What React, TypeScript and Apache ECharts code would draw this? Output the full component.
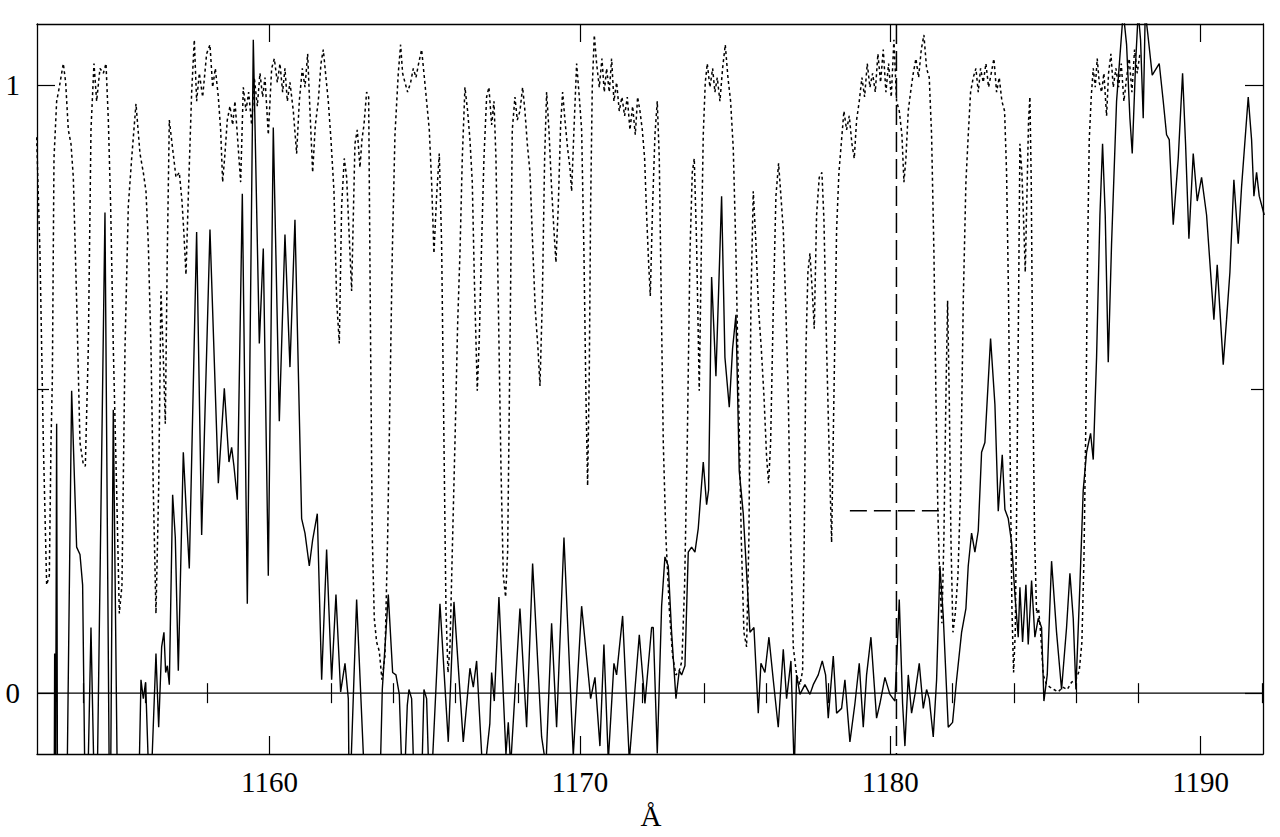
import React, { useEffect, useRef } from "react";
import * as echarts from "echarts";

// Axis ranges and ticks
const X_MIN = 1152.51;
const X_MAX = 1192.01;
const Y_MIN = -0.1;
const Y_MAX = 1.1;
const majorXTicks = [1160, 1170, 1180, 1190];
const minorXTicks = [1154, 1156, 1158, 1162, 1164, 1166, 1168, 1172, 1174, 1176, 1178, 1182, 1184, 1186, 1188, 1192];
const majorYTicks = [0, 1];
const minorYTicks = [0.5];
const xAxisTitle = "Å";

// Marker (line centre and width)
const markerLambda = 1180.2;
const markerFlux = 0.3;
const markerHalfWidth = 1.5;

// Observed spectrum (solid), [wavelength Å, normalised flux]
const observedA = [
  [1152.4, -0.3], [1152.93, -0.3], [1153.057, -0.3], [1153.079, 0.065], [1153.1, -0.3], [1153.143, 0.443], [1153.175, -0.3],
  [1153.444, -0.3], [1153.626, 0.497], [1153.787, 0.24], [1153.895, 0.228], [1153.98, 0.178], [1154.088, -0.3], [1154.249, 0.108],
  [1154.41, -0.3], [1154.7, 0.79], [1154.861, -0.3], [1154.968, 0.466], [1155.13, -0.3], [1155.774, -0.2], [1155.86, 0.022],
  [1155.935, -0.009], [1156.01, 0.018], [1156.15, -0.2], [1156.343, 0.065], [1156.43, -0.056], [1156.526, 0.076], [1156.6, 0.1],
  [1156.655, 0.034], [1156.71, 0.045], [1156.773, 0.014], [1156.88, 0.326], [1156.966, 0.256], [1157.063, 0.037], [1157.224, 0.396],
  [1157.331, 0.287], [1157.417, 0.205], [1157.653, 0.758], [1157.815, 0.26], [1158.083, 0.762], [1158.352, 0.345], [1158.545, 0.501],
  [1158.695, 0.38], [1158.781, 0.404], [1158.856, 0.373], [1158.964, 0.318], [1159.125, 0.821], [1159.286, 0.147], [1159.479, 1.074],
  [1159.673, 0.575], [1159.801, 0.731], [1159.962, 0.193], [1160.123, 0.93], [1160.317, 0.447], [1160.499, 0.754], [1160.66, 0.536],
  [1160.821, 0.778], [1161.036, 0.287], [1161.144, 0.263], [1161.283, 0.209], [1161.391, 0.252], [1161.541, 0.295], [1161.681, 0.022],
  [1161.841, 0.236], [1162.003, 0.022], [1162.142, 0.162], [1162.293, 0.002], [1162.433, 0.049], [1162.54, -0.009],
];
const observedB = [
  [1162.572, -0.2], [1162.808, 0.154], [1163.109, -0.2], [1163.56, -0.15], [1163.635, 0.006], [1163.828, 0.162], [1163.968, 0.034],
  [1164.075, 0.03], [1164.183, -0.002], [1164.311, -0.2], [1164.44, -0.02], [1164.494, 0.006], [1164.58, -0.009], [1164.687, -0.2],
  [1164.902, -0.15], [1164.977, 0.006], [1165.063, -0.009], [1165.17, -0.2], [1165.493, 0.147], [1165.761, -0.08], [1165.944, 0.15],
  [1166.244, -0.08], [1166.459, 0.041], [1166.567, 0.01], [1166.674, 0.053], [1166.889, -0.15], [1167.1, -0.05], [1167.157, 0.034],
  [1167.243, -0.013], [1167.393, 0.158], [1167.619, -0.1], [1167.694, -0.048], [1167.77, -0.12], [1168.07, 0.139], [1168.285, -0.056],
  [1168.478, 0.213], [1168.768, -0.072], [1168.908, -0.12], [1169.09, 0.115], [1169.251, -0.056], [1169.488, 0.256], [1169.788, -0.103],
  [1170.057, 0.143], [1170.347, -0.009], [1170.487, 0.026], [1170.647, -0.087], [1170.776, 0.08], [1170.916, -0.111], [1171.098, 0.049],
  [1171.184, 0.03], [1171.378, 0.127], [1171.593, -0.111], [1171.915, 0.096], [1172.097, -0.017], [1172.312, 0.108],
];
const observedC = [
  [1172.365, 0.108], [1172.494, -0.099], [1172.634, 0.143], [1172.741, 0.224], [1172.849, 0.209], [1172.956, 0.1], [1173.096, -0.009],
  [1173.203, 0.037], [1173.278, 0.03], [1173.386, 0.045], [1173.493, 0.232], [1173.6, 0.24], [1173.708, 0.232], [1173.815, 0.271],
  [1173.976, 0.38], [1174.084, 0.31], [1174.148, 0.334], [1174.245, 0.684], [1174.384, 0.521], [1174.567, 0.817], [1174.674, 0.552],
  [1174.814, 0.47], [1174.921, 0.567], [1175.029, 0.622], [1175.136, 0.365], [1175.265, 0.295], [1175.48, 0.1], [1175.609, 0.108],
  [1175.748, -0.033], [1175.834, 0.049], [1175.963, 0.034], [1176.092, 0.092], [1176.231, 0.022], [1176.392, -0.056], [1176.554, 0.072],
  [1176.661, -0.009], [1176.801, 0.053], [1176.908, -0.13], [1176.983, 0.03], [1177.091, -0.002], [1177.252, 0.014], [1177.413, -0.002],
  [1177.52, 0.014], [1177.681, 0.03], [1177.81, 0.053], [1177.917, 0.03], [1178.003, -0.041], [1178.165, 0.061], [1178.272, -0.033],
  [1178.433, -0.025], [1178.54, 0.022], [1178.701, -0.08], [1178.863, -0.017], [1179.002, 0.049], [1179.131, -0.056], [1179.238, 0.03],
  [1179.378, 0.092], [1179.56, -0.041], [1179.668, -0.017], [1179.829, 0.026], [1179.99, -0.002], [1180.151, -0.013], [1180.291, 0.154],
  [1180.398, -0.017], [1180.473, -0.087], [1180.581, 0.03], [1180.688, -0.033], [1180.796, -0.002], [1180.935, 0.049], [1181.064, -0.025],
  [1181.171, 0.006], [1181.257, -0.009], [1181.386, -0.072], [1181.494, 0.022], [1181.601, 0.209], [1181.708, 0.127], [1181.869, -0.056],
  [1182.009, -0.048], [1182.138, 0.022], [1182.299, 0.1], [1182.438, 0.139],
];
const observedD = [
  [1182.513, 0.209], [1182.621, 0.263], [1182.728, 0.232], [1182.836, 0.267], [1182.943, 0.396], [1183.05, 0.412], [1183.233, 0.583],
  [1183.373, 0.474], [1183.48, 0.299], [1183.609, 0.392], [1183.695, 0.302], [1183.802, 0.287], [1183.91, 0.248], [1184.017, 0.162],
  [1184.124, 0.092], [1184.178, 0.174], [1184.264, 0.084], [1184.371, 0.178], [1184.446, 0.08], [1184.554, 0.185], [1184.661, 0.092],
  [1184.769, 0.123], [1184.876, 0.108], [1184.951, -0.013], [1185.058, 0.03], [1185.198, 0.217], [1185.359, 0.1], [1185.52, 0.006],
  [1185.681, 0.108], [1185.789, 0.197], [1185.896, 0.123], [1185.982, 0.006], [1186.111, 0.178], [1186.218, 0.334], [1186.326, 0.396],
  [1186.455, 0.427], [1186.541, 0.384], [1186.648, 0.552], [1186.756, 0.786], [1186.841, 0.903], [1186.927, 0.786], [1187.024, 0.544],
  [1187.131, 0.739], [1187.292, 0.973], [1187.507, 1.12], [1187.615, 1.066], [1187.722, 0.945], [1187.797, 0.887], [1187.905, 1.035],
  [1187.99, 1.12], [1188.065, 1.074], [1188.151, 0.945], [1188.216, 1.12], [1188.302, 1.082], [1188.441, 1.016], [1188.667, 1.035],
  [1188.796, 0.973], [1188.903, 0.918], [1188.989, 0.91], [1189.118, 0.77], [1189.279, 0.879], [1189.419, 1.019], [1189.515, 0.903],
  [1189.623, 0.747], [1189.762, 0.887], [1189.891, 0.809], [1190.031, 0.848], [1190.192, 0.786], [1190.321, 0.692], [1190.428, 0.614],
  [1190.535, 0.704], [1190.621, 0.63], [1190.729, 0.54], [1190.836, 0.614], [1190.944, 0.692], [1191.072, 0.844], [1191.212, 0.739],
  [1191.319, 0.832], [1191.534, 0.98], [1191.642, 0.91], [1191.717, 0.817], [1191.803, 0.856], [1191.889, 0.817], [1192.05, 0.786],
];

// Model spectrum (dotted)
const modelA = [
  [1152.499, 0.914], [1152.606, 0.723], [1152.714, 0.412], [1152.821, 0.178], [1152.907, 0.193], [1152.961, 0.412], [1153.004, 0.513],
  [1153.057, 0.879], [1153.143, 0.973], [1153.229, 0.996], [1153.304, 1.019], [1153.358, 1.035], [1153.433, 1.004], [1153.519, 0.926],
  [1153.605, 0.903], [1153.68, 0.848], [1153.787, 0.645], [1153.895, 0.412], [1154.002, 0.376], [1154.067, 0.373], [1154.163, 0.567],
  [1154.249, 0.926], [1154.346, 1.035], [1154.432, 0.973], [1154.539, 1.027], [1154.647, 1.019], [1154.733, 1.035], [1154.808, 0.942],
  [1154.883, 0.801], [1154.969, 0.567], [1155.076, 0.334], [1155.162, 0.131], [1155.248, 0.178], [1155.345, 0.567], [1155.452, 0.801],
  [1155.56, 0.879], [1155.699, 0.969], [1155.828, 0.887], [1155.935, 0.856], [1156.021, 0.825], [1156.096, 0.739], [1156.182, 0.567],
  [1156.257, 0.334], [1156.343, 0.131], [1156.429, 0.334], [1156.504, 0.661], [1156.58, 0.552], [1156.644, 0.443], [1156.708, 0.723],
  [1156.773, 0.942], [1156.88, 0.895], [1156.988, 0.848], [1157.095, 0.856], [1157.181, 0.809], [1157.245, 0.754], [1157.31, 0.688],
  [1157.385, 0.817], [1157.493, 0.988], [1157.578, 1.074], [1157.653, 0.973], [1157.74, 1.019], [1157.847, 0.98], [1157.975, 1.051],
  [1158.083, 1.066], [1158.169, 0.996], [1158.255, 1.027], [1158.352, 0.98], [1158.427, 0.926], [1158.491, 0.84], [1158.566, 0.887],
  [1158.641, 0.942], [1158.727, 0.965], [1158.813, 0.934], [1158.888, 0.973], [1158.964, 0.918], [1159.071, 0.84], [1159.157, 0.996],
  [1159.243, 0.957], [1159.329, 0.988], [1159.426, 0.934], [1159.511, 1.012], [1159.608, 0.965], [1159.694, 1.019], [1159.78, 0.98],
  [1159.855, 1.012], [1159.962, 0.918], [1160.07, 1.027], [1160.156, 1.043], [1160.253, 1.004], [1160.338, 1.035], [1160.424, 0.988],
  [1160.499, 1.027], [1160.575, 0.973], [1160.66, 1.004], [1160.768, 0.957], [1160.875, 0.887], [1160.961, 0.973], [1161.058, 1.027],
  [1161.144, 0.996], [1161.23, 1.051], [1161.305, 0.957], [1161.391, 0.856], [1161.477, 0.934], [1161.573, 0.973], [1161.659, 1.035],
  [1161.734, 1.058], [1161.82, 1.012], [1161.895, 0.973], [1161.981, 0.91], [1162.078, 0.825], [1162.164, 0.645], [1162.25, 0.575],
  [1162.325, 0.801], [1162.41, 0.879], [1162.486, 0.848],
];
const modelB = [
  [1162.647, 0.661], [1162.754, 0.903], [1162.829, 0.926], [1162.915, 0.864], [1162.98, 0.91], [1163.044, 0.934], [1163.13, 0.988],
  [1163.195, 0.98], [1163.259, 0.567], [1163.313, 0.256], [1163.377, 0.123], [1163.452, 0.084], [1163.538, 0.069], [1163.624, 0.022],
  [1163.721, 0.061], [1163.807, 0.256], [1163.882, 0.489], [1163.957, 0.723], [1164.043, 0.918], [1164.15, 1.019], [1164.225, 1.066],
  [1164.29, 1.019], [1164.365, 1.004], [1164.451, 0.988], [1164.548, 1.004], [1164.634, 1.027], [1164.72, 1.012], [1164.805, 1.035],
  [1164.902, 1.058], [1164.977, 1.019], [1165.063, 0.973], [1165.149, 0.926], [1165.224, 0.84], [1165.299, 0.723], [1165.385, 0.817],
  [1165.471, 0.887], [1165.546, 0.739], [1165.622, 0.412], [1165.686, 0.139], [1165.751, 0.034], [1165.815, 0.076], [1165.901, 0.256],
  [1165.987, 0.435], [1166.062, 0.606], [1166.137, 0.723], [1166.212, 0.879], [1166.298, 0.996], [1166.384, 0.957], [1166.459, 0.91],
  [1166.534, 0.84], [1166.599, 0.684], [1166.695, 0.497], [1166.76, 0.583], [1166.835, 0.739], [1166.91, 0.879], [1166.996, 0.98],
  [1167.071, 0.996], [1167.157, 0.934], [1167.233, 0.973], [1167.297, 0.879], [1167.372, 0.645], [1167.458, 0.373], [1167.533, 0.193],
  [1167.608, 0.158], [1167.673, 0.232], [1167.748, 0.567], [1167.823, 0.926], [1167.909, 0.98], [1167.984, 0.942], [1168.07, 0.957],
  [1168.156, 0.996], [1168.231, 0.957], [1168.307, 0.903], [1168.393, 0.856], [1168.478, 0.739], [1168.564, 0.63], [1168.65, 0.567],
  [1168.715, 0.505], [1168.79, 0.645], [1168.865, 0.879], [1168.929, 0.988], [1169.004, 0.926], [1169.08, 0.84], [1169.155, 0.77],
  [1169.23, 0.708], [1169.305, 0.801], [1169.38, 0.934], [1169.445, 0.988], [1169.52, 0.942], [1169.606, 0.895], [1169.681, 0.864],
  [1169.735, 0.825], [1169.81, 0.926], [1169.896, 1.035], [1169.982, 0.98], [1170.057, 0.926], [1170.132, 0.723], [1170.196, 0.489],
  [1170.25, 0.341], [1170.304, 0.528], [1170.347, 0.801], [1170.4, 0.996], [1170.465, 1.082], [1170.54, 1.035], [1170.626, 0.996],
  [1170.712, 1.043], [1170.787, 0.988], [1170.862, 1.027], [1170.948, 0.988], [1171.023, 1.043], [1171.098, 0.973], [1171.184, 1.004],
  [1171.27, 0.957], [1171.356, 0.98], [1171.442, 0.949], [1171.528, 0.98], [1171.614, 0.926], [1171.7, 0.965], [1171.786, 0.918],
  [1171.861, 0.98], [1171.936, 0.957], [1172.012, 0.926], [1172.087, 0.879], [1172.151, 0.786], [1172.215, 0.708], [1172.269, 0.653],
  [1172.344, 0.801], [1172.42, 0.918], [1172.494, 0.973],
];
const modelC = [
  [1172.559, 0.879], [1172.623, 0.645], [1172.688, 0.412], [1172.773, 0.256], [1172.881, 0.139], [1172.988, 0.061], [1173.096, 0.03],
  [1173.203, 0.037], [1173.289, 0.053], [1173.375, 0.178], [1173.461, 0.412], [1173.547, 0.723], [1173.622, 0.856], [1173.686, 0.879],
  [1173.761, 0.739], [1173.847, 0.497], [1173.912, 0.723], [1173.976, 0.918], [1174.041, 1.004], [1174.105, 1.035], [1174.191, 0.996],
  [1174.277, 1.027], [1174.352, 0.988], [1174.427, 1.012], [1174.513, 0.973], [1174.599, 1.027], [1174.685, 1.066], [1174.771, 1.012],
  [1174.857, 0.973], [1174.943, 0.895], [1175.029, 0.723], [1175.115, 0.489], [1175.2, 0.256], [1175.286, 0.1], [1175.372, 0.076],
  [1175.447, 0.256], [1175.512, 0.645], [1175.587, 0.825], [1175.673, 0.739], [1175.759, 0.63], [1175.845, 0.567], [1175.931, 0.489],
  [1176.017, 0.388], [1176.081, 0.345], [1176.146, 0.412], [1176.231, 0.63], [1176.317, 0.817], [1176.403, 0.871], [1176.478, 0.817],
  [1176.554, 0.762], [1176.64, 0.626], [1176.715, 0.489], [1176.79, 0.256], [1176.876, 0.076], [1176.983, 0.03], [1177.091, 0.014],
  [1177.177, 0.037], [1177.23, 0.256], [1177.284, 0.567], [1177.348, 0.692], [1177.413, 0.723], [1177.488, 0.661], [1177.552, 0.599],
  [1177.627, 0.786], [1177.713, 0.848], [1177.799, 0.856], [1177.864, 0.778], [1177.95, 0.567], [1178.025, 0.412], [1178.111, 0.248],
  [1178.186, 0.489], [1178.272, 0.762], [1178.347, 0.856], [1178.433, 0.91], [1178.508, 0.957], [1178.594, 0.926], [1178.68, 0.949],
  [1178.766, 0.903], [1178.841, 0.879], [1178.916, 0.942], [1179.002, 0.973], [1179.088, 1.012], [1179.174, 0.98], [1179.26, 1.035],
  [1179.346, 0.996], [1179.432, 1.019], [1179.518, 0.988], [1179.603, 1.051], [1179.689, 1.004], [1179.775, 1.058], [1179.861, 0.988],
  [1179.947, 1.035], [1180.033, 0.98], [1180.119, 1.074], [1180.205, 0.973], [1180.291, 0.957], [1180.376, 0.918], [1180.441, 0.84],
  [1180.505, 0.879], [1180.58, 0.957], [1180.656, 0.988], [1180.742, 1.019], [1180.828, 1.043], [1180.914, 1.012], [1181.0, 1.058],
  [1181.085, 1.082], [1181.171, 1.027], [1181.257, 1.012], [1181.332, 0.918], [1181.408, 0.723], [1181.472, 0.489], [1181.536, 0.295],
  [1181.601, 0.178], [1181.665, 0.115], [1181.729, 0.256], [1181.794, 0.489], [1181.848, 0.645], [1181.901, 0.489], [1181.955, 0.256],
  [1182.02, 0.1], [1182.095, 0.131], [1182.181, 0.193], [1182.267, 0.334], [1182.353, 0.645], [1182.438, 0.84], [1182.514, 0.918],
];
const modelD = [
  [1182.589, 0.988], [1182.675, 1.012], [1182.761, 1.027], [1182.836, 0.988], [1182.911, 1.027], [1182.997, 1.004], [1183.083, 1.035],
  [1183.169, 0.996], [1183.254, 1.019], [1183.34, 1.043], [1183.426, 0.988], [1183.512, 1.012], [1183.598, 0.973], [1183.684, 0.957],
  [1183.748, 0.856], [1183.813, 0.645], [1183.867, 0.373], [1183.921, 0.139], [1183.974, 0.034], [1184.028, 0.1], [1184.081, 0.334],
  [1184.135, 0.645], [1184.178, 0.903], [1184.242, 0.856], [1184.307, 0.762], [1184.35, 0.692], [1184.404, 0.817], [1184.457, 0.942],
  [1184.5, 0.98], [1184.543, 0.84], [1184.597, 0.489], [1184.651, 0.256], [1184.715, 0.131], [1184.779, 0.139], [1184.844, 0.1],
  [1184.93, 0.03], [1185.037, 0.014], [1185.145, 0.01], [1185.273, 0.006], [1185.413, 0.002], [1185.553, 0.01], [1185.703, 0.006],
  [1185.843, 0.018], [1185.982, 0.022], [1186.09, 0.037], [1186.175, 0.084], [1186.24, 0.217], [1186.304, 0.451], [1186.358, 0.723],
  [1186.412, 0.91], [1186.476, 0.98], [1186.541, 1.027], [1186.605, 0.996], [1186.669, 1.043], [1186.734, 1.004], [1186.809, 0.988],
  [1186.884, 1.019], [1186.97, 0.949], [1187.034, 1.019], [1187.11, 1.051], [1187.185, 0.996], [1187.271, 1.027], [1187.357, 0.996],
  [1187.443, 1.035], [1187.529, 0.973], [1187.615, 1.012], [1187.7, 1.043], [1187.786, 0.988], [1187.872, 1.058], [1187.958, 1.019],
  [1188.044, 1.051],
];

const FONT = "'Liberation Serif', 'DejaVu Serif', serif";
const INK = "#000";

export default function App() {
  const ref = useRef<HTMLDivElement>(null);

  useEffect(() => {
    if (!ref.current) return;
    const chart = echarts.init(ref.current, undefined, { renderer: "svg" });

    const observed = [...observedA, ...observedB, ...observedC, ...observedD];
    const model = [...modelA, ...modelB, ...modelC, ...modelD];

    const baseX = {
      type: "value" as const,
      min: X_MIN,
      max: X_MAX,
      gridIndex: 0,
      splitLine: { show: false },
    };
    const baseY = {
      type: "value" as const,
      min: Y_MIN,
      max: Y_MAX,
      gridIndex: 0,
      splitLine: { show: false },
    };
    const frameLine = { show: true, onZero: false, lineStyle: { color: INK, width: 1.3 } };
    const tickStyle = { color: INK, width: 1.2 };

    chart.setOption({
      animation: false,
      backgroundColor: "#fff",
      grid: { left: 37, top: 24, width: 1226, height: 730, containLabel: false },
      xAxis: [
        {
          ...baseX,
          position: "bottom",
          axisLine: frameLine,
          axisTick: { show: true, inside: true, length: 18, customValues: majorXTicks, lineStyle: tickStyle },
          axisLabel: {
            show: true,
            customValues: majorXTicks,
            margin: 13,
            color: INK,
            fontFamily: FONT,
            fontSize: 29,
            formatter: (v: number) => String(v),
          },
        },
        {
          ...baseX,
          position: "top",
          axisLine: frameLine,
          axisTick: { show: true, inside: true, length: 18, customValues: majorXTicks, lineStyle: tickStyle },
          axisLabel: { show: false },
        },
        {
          ...baseX,
          position: "bottom",
          axisLine: { show: false },
          axisTick: { show: true, inside: true, length: 10, customValues: minorXTicks, lineStyle: tickStyle },
          axisLabel: { show: false },
        },
        {
          ...baseX,
          position: "top",
          axisLine: { show: false },
          axisTick: { show: true, inside: true, length: 10, customValues: minorXTicks, lineStyle: tickStyle },
          axisLabel: { show: false },
        },
      ],
      yAxis: [
        {
          ...baseY,
          position: "left",
          axisLine: frameLine,
          axisTick: { show: true, inside: true, length: 18, customValues: majorYTicks, lineStyle: tickStyle },
          axisLabel: {
            show: true,
            customValues: majorYTicks,
            margin: 17,
            color: INK,
            fontFamily: FONT,
            fontSize: 29,
            formatter: (v: number) => String(v),
          },
        },
        {
          ...baseY,
          position: "right",
          axisLine: frameLine,
          axisTick: { show: true, inside: true, length: 18, customValues: majorYTicks, lineStyle: tickStyle },
          axisLabel: { show: false },
        },
        {
          ...baseY,
          position: "left",
          axisLine: { show: false },
          axisTick: { show: true, inside: true, length: 12, customValues: minorYTicks, lineStyle: tickStyle },
          axisLabel: { show: false },
        },
        {
          ...baseY,
          position: "right",
          axisLine: { show: false },
          axisTick: { show: true, inside: true, length: 12, customValues: minorYTicks, lineStyle: tickStyle },
          axisLabel: { show: false },
        },
      ],
      graphic: [
        {
          type: "text",
          x: 651,
          y: 816,
          style: {
            text: xAxisTitle,
            fontFamily: FONT,
            fontSize: 29,
            fill: INK,
            align: "center",
            verticalAlign: "middle",
            textAlign: "center",
            textVerticalAlign: "middle",
          },
        },
      ],
      series: [
        {
          name: "zero",
          type: "line",
          xAxisIndex: 0,
          yAxisIndex: 0,
          data: [[X_MIN, 0], [X_MAX, 0]],
          symbol: "none",
          silent: true,
          lineStyle: { color: INK, width: 1.2 },
        },
        {
          name: "model",
          type: "line",
          xAxisIndex: 0,
          yAxisIndex: 0,
          data: model,
          symbol: "none",
          clip: true,
          lineStyle: { color: INK, width: 1.5, type: [3, 3] },
        },
        {
          name: "observed",
          type: "line",
          xAxisIndex: 0,
          yAxisIndex: 0,
          data: observed,
          symbol: "none",
          clip: true,
          lineStyle: { color: INK, width: 1.4 },
        },
        {
          name: "line centre",
          type: "line",
          xAxisIndex: 0,
          yAxisIndex: 0,
          data: [[markerLambda, Y_MAX], [markerLambda, Y_MIN]],
          symbol: "none",
          lineStyle: { color: INK, width: 1.5, type: [20, 7] },
        },
        {
          name: "line width",
          type: "line",
          xAxisIndex: 0,
          yAxisIndex: 0,
          data: [[markerLambda - markerHalfWidth, markerFlux], [markerLambda + markerHalfWidth, markerFlux]],
          symbol: "none",
          lineStyle: { color: INK, width: 1.5, type: [17, 7] },
        },
      ],
    });

    return () => chart.dispose();
  }, []);

  return (
    <div
      ref={ref}
      style={{ position: "fixed", left: 0, top: 0, width: 1280, height: 837, background: "#fff" }}
    />
  );
}
